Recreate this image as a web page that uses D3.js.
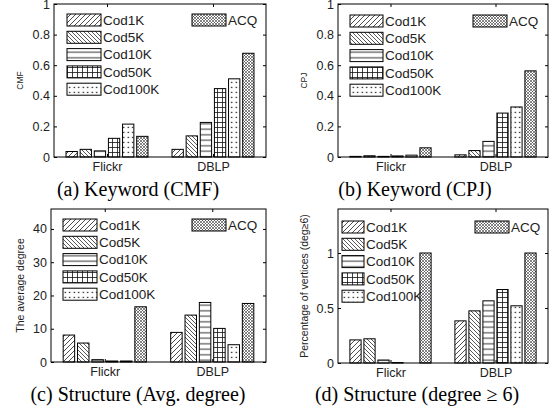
<!DOCTYPE html>
<html>
<head>
<meta charset="UTF-8">
<title>Cod vs ACQ</title>
<script src="https://cdn.jsdelivr.net/npm/d3@7"></script>
<style>
  body { margin: 0; background: #fff; }
  svg { display: block; }
</style>
</head>
<body>
<script>
// methods and datasets
var methods = ['Cod1K', 'Cod5K', 'Cod10K', 'Cod50K', 'Cod100K', 'ACQ'];
var datasets = ['Flickr', 'DBLP'];

// values, one entry per method
var cmfFlickr = [0.036, 0.05, 0.04, 0.122, 0.215, 0.135];
var cmfDBLP   = [0.05, 0.138, 0.226, 0.447, 0.511, 0.678];
var cpjFlickr = [0.004, 0.008, 0.004, 0.007, 0.012, 0.06];
var cpjDBLP   = [0.014, 0.042, 0.102, 0.287, 0.327, 0.563];
var degFlickr = [8.1, 5.7, 0.7, 0.3, 0.3, 16.6];
var degDBLP   = [8.9, 14.1, 17.9, 10.1, 5.2, 17.6];
var pctFlickr = [0.21, 0.22, 0.027, 0.004, 0, 1.0];
var pctDBLP   = [0.383, 0.474, 0.565, 0.668, 0.52, 1.0];

// tick labels
var ticksKeyword = [0, 0.2, 0.4, 0.6, 0.8, 1];
var ticksDegree = [0, 10, 20, 30, 40];
var ticksPct = [0, 0.5, 1];

var panels = [
  { id: 'a', left: 54, right: 266, top: 4, bottom: 157, max: 1, ticks: ticksKeyword,
    series: [cmfFlickr, cmfDBLP], ylabel: 'CMF', ylabelSize: 8.5, ylabelX: 20,
    caption: '(a) Keyword (CMF)', capX: 138, capY: 196,
    legX: 67, legW: 34, legY: 20, acqX: 192 },
  { id: 'b', left: 338, right: 548, top: 4, bottom: 157, max: 1, ticks: ticksKeyword,
    series: [cpjFlickr, cpjDBLP], ylabel: 'CPJ', ylabelSize: 8.5, ylabelX: 304,
    caption: '(b) Keyword (CPJ)', capX: 415, capY: 196,
    legX: 350, legW: 33, legY: 21, acqX: 473 },
  { id: 'c', left: 51, right: 266, top: 209, bottom: 362, max: 46, ticks: ticksDegree,
    series: [degFlickr, degDBLP], ylabel: 'The average degree', ylabelSize: 10.5, ylabelX: 20,
    caption: '(c) Structure (Avg. degree)', capX: 138, capY: 401,
    legX: 63, legW: 34, legY: 225, acqX: 192 },
  { id: 'd', left: 338, right: 548, top: 209, bottom: 363, max: 1.4, ticks: ticksPct,
    series: [pctFlickr, pctDBLP], ylabel: 'Percentage of vertices (deg\u22656)', ylabelSize: 10.5, ylabelX: 304,
    caption: '(d) Structure (degree \u2265 6)', capX: 417, capY: 401,
    legX: 342, legW: 22, legY: 227, acqX: 475 }
];

var svg = d3.select('body').append('svg')
    .attr('width', 552)
    .attr('height', 412);

// fill patterns, one per method
var defs = svg.append('defs');
function pattern(id, w, h, draw) {
  var p = defs.append('pattern')
      .attr('id', id)
      .attr('patternUnits', 'userSpaceOnUse')
      .attr('width', w)
      .attr('height', h);
  p.append('rect').attr('width', w).attr('height', h).attr('fill', '#fff');
  draw(p);
}
pattern('pat0', 5, 5, function (p) {
  p.append('path').attr('d', 'M0,5L5,0M-1,1L1,-1M4,6L6,4')
      .attr('stroke', '#111').attr('stroke-width', 0.75);
});
pattern('pat1', 4, 4, function (p) {
  p.append('path').attr('d', 'M0,0L4,4M-1,3L1,5M3,-1L5,1')
      .attr('stroke', '#111').attr('stroke-width', 0.7);
});
pattern('pat2', 6, 5.5, function (p) {
  p.append('path').attr('d', 'M0,2.75H6')
      .attr('stroke', '#111').attr('stroke-width', 0.9);
});
pattern('pat3', 5, 5, function (p) {
  p.append('path').attr('d', 'M0,2.5H5M2.5,0V5')
      .attr('stroke', '#111').attr('stroke-width', 0.8);
});
pattern('pat4', 4.5, 5, function (p) {
  p.append('rect').attr('x', 1.6).attr('y', 1.8).attr('width', 1.3).attr('height', 1.3)
      .attr('fill', '#111');
});
pattern('pat5', 3, 3, function (p) {
  p.append('path').attr('d', 'M0,0L3,3M3,0L0,3')
      .attr('stroke', '#333').attr('stroke-width', 0.6);
});

var sans = "'Liberation Sans', Arial, Helvetica, sans-serif";
var serif = "'Liberation Serif', 'Times New Roman', Times, serif";

panels.forEach(function (cfg) {
  var g = svg.append('g');

  var x0 = d3.scaleBand().domain(datasets)
      .range([cfg.left, cfg.right])
      .paddingInner(0.2).paddingOuter(0.1);
  var x1 = d3.scaleBand().domain(methods)
      .range([0, x0.bandwidth()])
      .paddingInner(0.2).paddingOuter(0.1);
  var y = d3.scaleLinear().domain([0, cfg.max]).range([cfg.bottom, cfg.top]);

  // bars
  datasets.forEach(function (ds, di) {
    g.append('g').selectAll('rect')
        .data(cfg.series[di])
        .enter().append('rect')
        .attr('x', function (d, i) { return x0(ds) + x1(methods[i]); })
        .attr('y', function (d) { return y(d); })
        .attr('width', x1.bandwidth())
        .attr('height', function (d) { return y(0) - y(d); })
        .attr('fill', function (d, i) { return 'url(#pat' + i + ')'; })
        .attr('stroke', '#000')
        .attr('stroke-width', 1);
  });

  // axes, ticks pointing inward
  var xTicks = function (s) { return s.tickSizeInner(-3).tickSizeOuter(0); };
  var catScale = d3.scalePoint().domain(datasets)
      .range([x0(datasets[0]) + x0.bandwidth() / 2, x0(datasets[1]) + x0.bandwidth() / 2]);

  var axL = g.append('g').attr('transform', 'translate(' + cfg.left + ',0)')
      .call(d3.axisLeft(y).tickValues(cfg.ticks).tickFormat(function (d) { return String(d); })
        .tickSizeInner(-3).tickSizeOuter(0).tickPadding(4));
  var axR = g.append('g').attr('transform', 'translate(' + cfg.right + ',0)')
      .call(d3.axisRight(y).tickValues(cfg.ticks).tickFormat('')
        .tickSizeInner(-3).tickSizeOuter(0));
  var axB = g.append('g').attr('transform', 'translate(0,' + cfg.bottom + ')')
      .call(xTicks(d3.axisBottom(catScale)).tickPadding(5));
  var axT = g.append('g').attr('transform', 'translate(0,' + cfg.top + ')')
      .call(xTicks(d3.axisTop(catScale)).tickFormat(''));

  [axL, axR, axB, axT].forEach(function (ax) {
    ax.select('.domain').remove();
    ax.attr('font-family', null).attr('font-size', null);
    ax.selectAll('line').attr('stroke', '#000');
    ax.selectAll('text')
        .attr('fill', '#222')
        .style('font-family', sans)
        .style('font-size', '12.5px');
  });

  // frame
  g.append('rect')
      .attr('x', cfg.left).attr('y', cfg.top)
      .attr('width', cfg.right - cfg.left).attr('height', cfg.bottom - cfg.top)
      .attr('fill', 'none').attr('stroke', '#000').attr('stroke-width', 1);

  // y label
  g.append('text')
      .attr('transform', 'translate(' + cfg.ylabelX + ',' + ((cfg.top + cfg.bottom) / 2) + ') rotate(-90)')
      .attr('text-anchor', 'middle')
      .attr('dy', '0.35em')
      .style('font-family', sans)
      .style('font-size', cfg.ylabelSize + 'px')
      .attr('fill', '#222')
      .text(cfg.ylabel);

  // legend: first five in a column, ACQ top right
  var step = 17.3;
  methods.forEach(function (m, i) {
    var lx = i < 5 ? cfg.legX : cfg.acqX;
    var ly = i < 5 ? cfg.legY + i * step : cfg.legY;
    var w = i < 5 ? cfg.legW : 34;
    g.append('rect')
        .attr('x', lx).attr('y', ly - 6)
        .attr('width', w).attr('height', 12)
        .attr('fill', 'url(#pat' + i + ')')
        .attr('stroke', '#000').attr('stroke-width', 1);
    g.append('text')
        .attr('x', lx + w + 2).attr('y', ly)
        .attr('dy', '0.36em')
        .style('font-family', sans)
        .style('font-size', '13.5px')
        .attr('fill', '#222')
        .text(m);
  });

  // caption
  g.append('text')
      .attr('x', cfg.capX).attr('y', cfg.capY)
      .attr('text-anchor', 'middle')
      .style('font-family', serif)
      .style('font-size', '20px')
      .attr('fill', '#000')
      .text(cfg.caption);
});
</script>
</body>
</html>
